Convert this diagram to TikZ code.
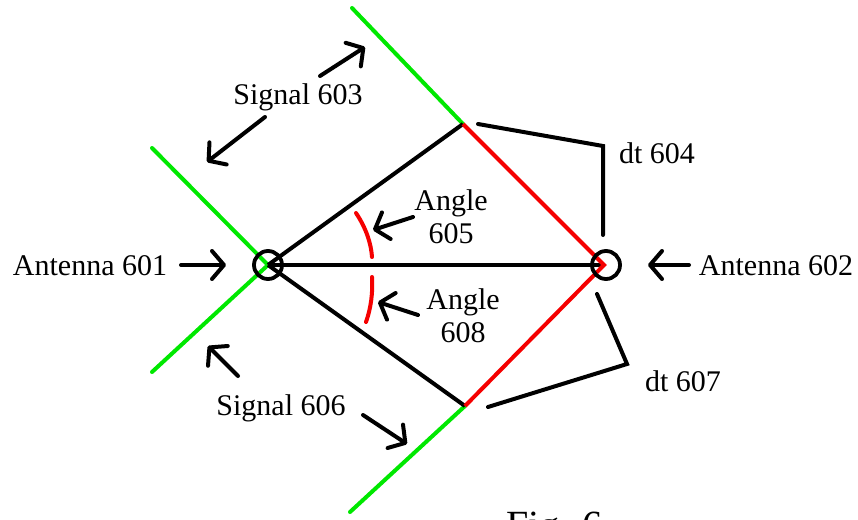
\documentclass[tikz,border=0pt]{standalone}
\usepackage{fontspec}
\setmainfont{Liberation Serif}
\usetikzlibrary{arrows.meta}
\definecolor{sig}{RGB}{0,232,0}
\definecolor{dred}{RGB}{245,0,0}
\begin{document}
\begin{tikzpicture}[x=1pt,y=-1pt,
  lbl/.style={font=\fontsize{30}{33}\selectfont, inner sep=0pt, align=center},
  ptr/.style={line width=4pt, line cap=round, -{Straight Barb[length=12pt,width=28pt,line cap=round,line join=round]}},
  blk/.style={line width=4pt, black},
  grn/.style={line width=4pt, sig, line cap=round},
  rd/.style={line width=4pt, dred},
  ant/.style={circle, draw, line width=3.8pt, minimum size=28pt, inner sep=0pt},
  brk/.style={line width=4pt, line cap=round}]
\useasboundingbox (0,0) rectangle (858,519);
% key points
\coordinate (a1c) at (268,265);
\coordinate (a2c) at (604,265);
\coordinate (vt) at (463,124);
\coordinate (vb) at (465,406);
\coordinate (g1) at (352,8);
\coordinate (g2) at (152,148);
\coordinate (g3) at (152,372);
\coordinate (g4) at (350,512);
% green wavefronts
\draw[grn] (g1) -- (vt);
\draw[grn] (g2) -- (a1c) -- (g3);
\draw[grn] (vb) -- (g4);
% black triangle lines
\draw[blk] (a1c) -- (vt);
\draw[blk] (a1c) -- (vb);
\draw[blk] (a1c) -- (a2c);
% red path difference
\draw[rd, line join=miter] (vt) -- (a2c) -- (vb);
% antennas
\node[ant] (a1) at (a1c) {};
\node[ant] (a2) at (606,265) {};
% dt brackets
\coordinate (d1a) at (478,124);
\coordinate (d1b) at (603,146);
\coordinate (d1c) at (603,235);
\draw[brk, line join=miter] (d1a) -- (d1b) -- (d1c);
\coordinate (d2a) at (597,294);
\coordinate (d2b) at (627,364);
\coordinate (d2c) at (488,407);
\draw[brk, line join=miter] (d2a) -- (d2b) -- (d2c);
% angle arcs
\draw[rd, line cap=round] (356,213) .. controls (366,228) and (371,243) .. (372,257);
\draw[rd, line cap=round] (372,277) .. controls (373,292) and (371,308) .. (366,322);
% labels
\node[lbl] (l601) at (90,266) {Antenna 601};
\node[lbl] (l602) at (776,266) {Antenna 602};
\node[lbl] (l603) at (298,97) {Signal 603};
\node[lbl] (l606) at (281,408) {Signal 606};
\node[lbl] (l604) at (657,153) {dt 604};
\node[lbl] (l607) at (683,381) {dt 607};
\node[lbl] (l605) at (451,217) {Angle\\605};
\node[lbl] (l608) at (463,316) {Angle\\608};
\node[font=\fontsize{40}{44}\selectfont, inner sep=0pt, anchor=base west] (fig) at (506,538) {Fig. 6};
% pointer arrows
\coordinate (p1t) at (181,265); \coordinate (p1h) at (226,265);
\draw[ptr] (p1t) -- (p1h);
\coordinate (p2t) at (689,265); \coordinate (p2h) at (648,265);
\draw[ptr] (p2t) -- (p2h);
\coordinate (p3t) at (320,76); \coordinate (p3h) at (365,47);
\draw[ptr] (p3t) -- (p3h);
\coordinate (p4t) at (265,117); \coordinate (p4h) at (207,162);
\draw[ptr] (p4t) -- (p4h);
\coordinate (p5t) at (238,376); \coordinate (p5h) at (208,346);
\draw[ptr] (p5t) -- (p5h);
\coordinate (p6t) at (363,415); \coordinate (p6h) at (407,444);
\draw[ptr] (p6t) -- (p6h);
\coordinate (p7t) at (413,217); \coordinate (p7h) at (373,230);
\draw[ptr] (p7t) -- (p7h);
\coordinate (p8t) at (418,315); \coordinate (p8h) at (378,302);
\draw[ptr] (p8t) -- (p8h);
\end{tikzpicture}
\end{document}
